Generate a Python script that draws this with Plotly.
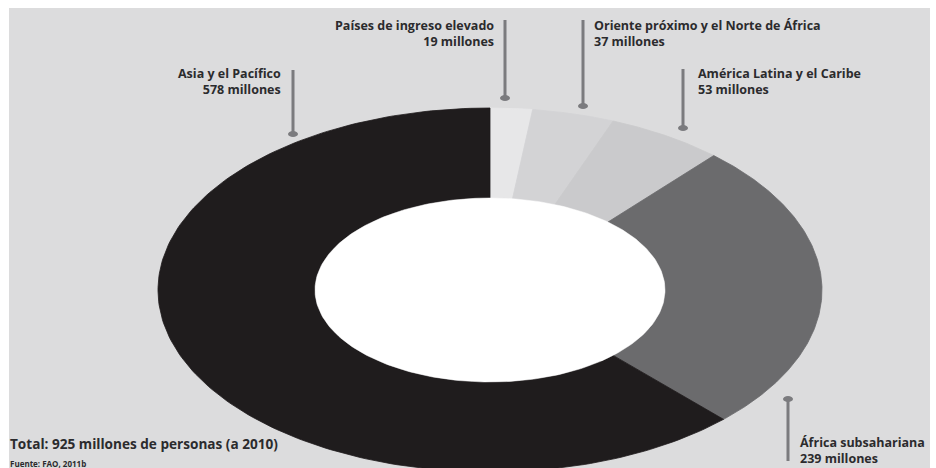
import numpy as np
import plotly.graph_objects as go

# ---- data ----
regions = ["Países de ingreso elevado", "Oriente próximo y el Norte de África",
           "América Latina y el Caribe", "África subsahariana", "Asia y el Pacífico"]
values = [19, 37, 53, 239, 578]
value_labels = ["19 millones", "37 millones", "53 millones", "239 millones", "578 millones"]
colors = ["#e7e7e8", "#d3d3d5", "#cacacc", "#6b6b6d", "#1f1c1d"]
total_label = "Total: 925 millones de personas (a 2010)"
source_label = "Fuente: FAO, 2011b"

# ---- layout constants ----
W, H = 936, 468
cx, cy = 490, 290
orx, ory = 332, 182
irx, iry = 175, 92
bg = "#dcdcdd"
pin_color = "#7b7b7e"
text_color = "#2b2b2d"
FONT = "Open Sans"

fig = go.Figure()

total = float(sum(values))
cum = np.concatenate([[0], np.cumsum(values)]) / total * 2 * np.pi
for i, name in enumerate(regions):
    t = np.linspace(cum[i], cum[i + 1], 200)
    xo = cx + orx * np.sin(t)
    yo = cy - ory * np.cos(t)
    xi = cx + irx * np.sin(t[::-1])
    yi = cy - iry * np.cos(t[::-1])
    xs = np.concatenate([xo, xi, xo[:1]])
    ys = np.concatenate([yo, yi, yo[:1]])
    fig.add_trace(go.Scatter(x=xs, y=ys, mode="lines", fill="toself",
                             fillcolor=colors[i], line=dict(color=colors[i], width=0.8),
                             name=name, hoverinfo="text",
                             text=f"{name}: {values[i]} millones", showlegend=False))

# hole
th = np.linspace(0, 2 * np.pi, 300)
fig.add_trace(go.Scatter(x=cx + irx * np.sin(th), y=cy - iry * np.cos(th), mode="lines",
                         fill="toself", fillcolor="white", line=dict(color="white", width=0.5),
                         hoverinfo="skip", showlegend=False))

shapes = [dict(type="rect", xref="x", yref="y", x0=9, y0=8, x1=930, y1=H + 5,
               fillcolor=bg, line=dict(width=0), layer="below")]

# pins per region: (x, y_top, y_bottom, dot_at_bottom)
pins = [
    (505, 20, 98, True),
    (583, 20, 106, True),
    (683, 69, 128, True),
    (788, 399, 461, False),
    (293, 70, 134, True),
]
for (px, y0, y1, bottom) in pins:
    shapes.append(dict(type="line", xref="x", yref="y", x0=px, x1=px, y0=y0, y1=y1,
                       line=dict(color=pin_color, width=3)))
    dy = y1 if bottom else y0
    shapes.append(dict(type="circle", xref="x", yref="y", x0=px - 5, x1=px + 5,
                       y0=dy - 3, y1=dy + 3, fillcolor=pin_color, line=dict(width=0)))

annotations = []
label_pos = [
    (496, 33, "right"),
    (592, 33, "left"),
    (696, 81, "left"),
    (798, 450, "left"),
    (283, 81, "right"),
]
for i, (lx, ly, al) in enumerate(label_pos):
    annotations.append(dict(x=lx, y=ly, xref="x", yref="y", showarrow=False,
                            xanchor=al, yanchor="middle", align=al,
                            text=f"<b>{regions[i]}<br>{value_labels[i]}</b>",
                            font=dict(family=FONT, size=12.5, color=text_color)))

annotations.append(dict(x=8, y=443, xref="x", yref="y", showarrow=False, xanchor="left",
                        yanchor="middle", text=f"<b>{total_label}</b>",
                        font=dict(family=FONT, size=13.6, color=text_color)))
annotations.append(dict(x=8, y=463, xref="x", yref="y", showarrow=False, xanchor="left",
                        yanchor="middle", text=f"<b>{source_label}</b>",
                        font=dict(family=FONT, size=8, color=text_color)))

fig.update_layout(
    width=W, height=H, margin=dict(l=0, r=0, t=0, b=0),
    paper_bgcolor="white", plot_bgcolor="white",
    xaxis=dict(range=[0, W], visible=False, fixedrange=True),
    yaxis=dict(range=[H, 0], visible=False, fixedrange=True),
    shapes=shapes, annotations=annotations, showlegend=False,
)

fig.write_html("out.html")
